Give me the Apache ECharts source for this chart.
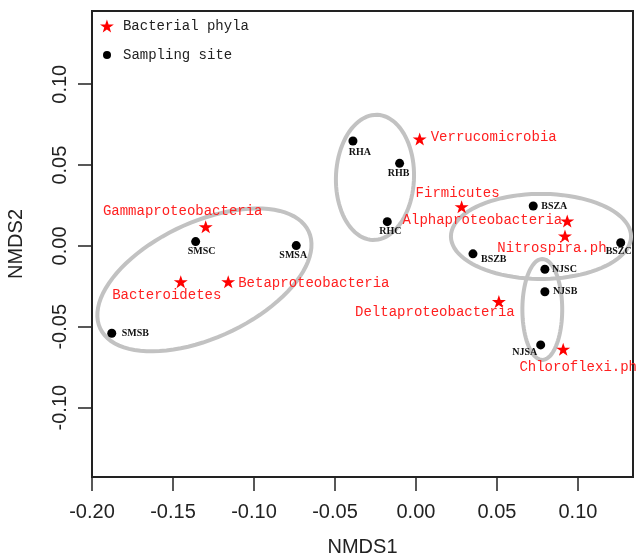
<!DOCTYPE html>
<html>
<head>
<meta charset="utf-8">
<script src="https://cdn.jsdelivr.net/npm/echarts@6/dist/echarts.min.js"></script>
<style>html,body{margin:0;padding:0;background:#fff}#c{width:641px;height:557px}</style>
</head>
<body>
<div id="c"></div>
<script>
// ---- data ----
const xTicks = [-0.20, -0.15, -0.10, -0.05, 0.00, 0.05, 0.10];
const yTicks = [-0.10, -0.05, 0.00, 0.05, 0.10];

const phylaNames = ['Gammaproteobacteria', 'Bacteroidetes', 'Betaproteobacteria', 'Verrucomicrobia',
  'Firmicutes', 'Alphaproteobacteria', 'Nitrospira.ph', 'Deltaproteobacteria', 'Chloroflexi.ph'];
const phylaX = [-0.1298, -0.1452, -0.1159, 0.0023, 0.0282, 0.0934, 0.0920, 0.0512, 0.0909];
const phylaY = [0.0119, -0.0221, -0.0221, 0.0662, 0.0243, 0.0155, 0.0062, -0.0344, -0.0639];

const siteNames = ['SMSA', 'SMSB', 'SMSC', 'RHA', 'RHB', 'RHC', 'BSZA', 'BSZB', 'BSZC', 'NJSA', 'NJSB', 'NJSC'];
const siteX = [-0.0739, -0.1878, -0.1360, -0.0389, -0.0101, -0.0177, 0.0724, 0.0352, 0.1264, 0.0770, 0.0796, 0.0796];
const siteY = [0.0002, -0.0540, 0.0027, 0.0649, 0.0511, 0.0150, 0.0247, -0.0049, 0.0020, -0.0612, -0.0283, -0.0144];

// group ellipses: centre x, centre y, semi-axis a, semi-axis b, angle (deg)
const groupCx = [-0.1306, -0.0253, 0.0772, 0.0780];
const groupCy = [-0.0210, 0.0424, 0.0059, -0.0393];
const groupA = [0.0710, 0.0387, 0.0556, 0.0312];
const groupB = [0.0358, 0.0241, 0.0263, 0.0123];
const groupAngle = [25, 88, 0, 90];

// ---- label layout (pixel offsets) ----
const phylaLabelLayout = [[-23, -15, 'center'], [-14, 14, 'center'], [10, 2, 'left'], [11, -2, 'left'],
  [-4, -13, 'center'], [-5, -1, 'right'], [-13, 12, 'center'], [-64, 11, 'center'], [15, 18, 'center']];
const siteLabelLayout = [[-3, 10, 'center'], [10, 0, 'left'], [6, 10, 'center'], [7, 11, 'center'],
  [-1, 10, 'center'], [3, 10, 'center'], [8, 0, 'left'], [8, 6, 'left'], [-2, 9, 'center'],
  [-16, 8, 'center'], [8, 0, 'left'], [7, 0, 'left']];

const STAR = 'path://M50,0 L61.8,35.1 L98.5,35.1 L68.8,56.7 L79.4,91 L50,70 L20.6,91 L31.2,56.7 L1.5,35.1 L38.2,35.1 Z';
const MONO = '"Liberation Mono", "DejaVu Sans Mono", monospace';
const SANS = '"Liberation Sans", Arial, sans-serif';
const SERIF = '"Liberation Serif", "Times New Roman", serif';

const phylaData = phylaNames.map((n, i) => ({
  name: n, value: [phylaX[i], phylaY[i]],
  label: { offset: [phylaLabelLayout[i][0], phylaLabelLayout[i][1]], align: phylaLabelLayout[i][2] }
}));
const siteData = siteNames.map((n, i) => ({
  name: n, value: [siteX[i], siteY[i]],
  label: { offset: [siteLabelLayout[i][0], siteLabelLayout[i][1]], align: siteLabelLayout[i][2] }
}));
const ellipseData = groupCx.map((c, i) => [c, groupCy[i], groupA[i], groupB[i], groupAngle[i]]);

const chart = echarts.init(document.getElementById('c'), null, { renderer: 'canvas' });
chart.setOption({
  backgroundColor: '#fff',
  animation: false,
  grid: { left: 92, right: 8, top: 11, bottom: 80, show: true, borderColor: '#222', borderWidth: 2,
    backgroundColor: 'transparent', containLabel: false, outerBoundsMode: 'none' },
  xAxis: {
    type: 'value', min: -0.2, max: 0.134,
    name: 'NMDS1', nameLocation: 'middle', nameGap: 60,
    nameTextStyle: { fontFamily: SANS, fontSize: 20, color: '#222' },
    axisLine: { show: false, onZero: false },
    splitLine: { show: false },
    axisTick: { show: true, inside: false, length: 14, customValues: xTicks, lineStyle: { color: '#222', width: 1.5 } },
    axisLabel: { customValues: xTicks, margin: 25, fontFamily: SANS, fontSize: 20, color: '#222', formatter: v => v.toFixed(2) }
  },
  yAxis: {
    type: 'value', min: -0.1429, max: 0.1453,
    name: 'NMDS2', nameLocation: 'middle', nameGap: 66, nameRotate: 90,
    nameTextStyle: { fontFamily: SANS, fontSize: 20, color: '#222' },
    axisLine: { show: false, onZero: false },
    splitLine: { show: false },
    axisTick: { show: true, inside: false, length: 14, customValues: yTicks, lineStyle: { color: '#222', width: 1.5 } },
    axisLabel: { customValues: yTicks, rotate: 90, margin: 22, fontFamily: SANS, fontSize: 20, color: '#222', formatter: v => v.toFixed(2) }
  },
  legend: [
    { data: ['Bacterial phyla'], left: 100, top: 19, padding: 0, itemWidth: 14, itemHeight: 13, icon: STAR,
      itemStyle: { opacity: 1 },
      textStyle: { fontFamily: MONO, fontSize: 14, color: '#222', padding: [0, 0, 0, 4] } },
    { data: ['Sampling site'], left: 103, top: 48, padding: 0, itemWidth: 8, itemHeight: 8, icon: 'circle',
      itemStyle: { opacity: 1 },
      textStyle: { fontFamily: MONO, fontSize: 14, color: '#222', padding: [0, 0, 0, 7] } }
  ],
  series: [
    {
      type: 'custom', name: 'groups', z: 1, silent: true,
      data: ellipseData,
      encode: { x: 0, y: 1 },
      clip: false,
      renderItem: function (params, api) {
        const cx = api.value(0), cy = api.value(1), a = api.value(2), b = api.value(3);
        const ang = api.value(4) * Math.PI / 180;
        const pts = [];
        for (let k = 0; k < 90; k++) {
          const t = k / 90 * Math.PI * 2;
          const dx = a * Math.cos(t), dy = b * Math.sin(t);
          pts.push(api.coord([cx + dx * Math.cos(ang) - dy * Math.sin(ang), cy + dx * Math.sin(ang) + dy * Math.cos(ang)]));
        }
        return { type: 'polygon', shape: { points: pts }, style: { fill: 'none', stroke: '#c2c2c2', lineWidth: 4 } };
      }
    },
    {
      type: 'scatter', name: 'Bacterial phyla', z: 3,
      symbol: STAR, symbolSize: [14, 13],
      itemStyle: { color: '#ff0000', opacity: 1 },
      data: phylaData,
      label: { show: true, position: 'inside', verticalAlign: 'middle', formatter: '{b}',
        fontFamily: MONO, fontSize: 14, color: '#ff2020' }
    },
    {
      type: 'scatter', name: 'Sampling site', z: 3,
      symbol: 'circle', symbolSize: 9,
      itemStyle: { color: '#000', opacity: 1 },
      data: siteData,
      label: { show: true, position: 'inside', verticalAlign: 'middle', formatter: '{b}',
        fontFamily: SERIF, fontWeight: 'bold', fontSize: 10, color: '#111' }
    }
  ]
});
</script>
</body>
</html>
